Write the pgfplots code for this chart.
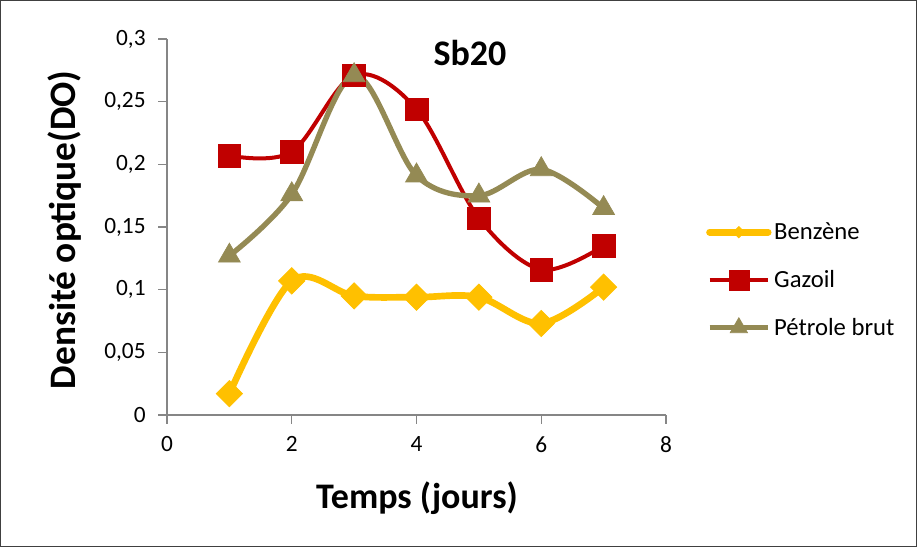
\documentclass[border=0pt]{standalone}
\usepackage{pgfplots}
\pgfplotsset{compat=1.18}
\usepackage{fontspec}
\setmainfont{Carlito}
\definecolor{benz}{HTML}{FFC000}
\definecolor{gaz}{HTML}{C00000}
\definecolor{pet}{HTML}{948A54}
\definecolor{axgray}{HTML}{868686}
\begin{document}
\begin{tikzpicture}[x=0.75pt,y=0.75pt]
\draw[draw=black!75,line width=0.75pt] (0.5,0.5) rectangle (916.5,546.5);
\begin{axis}[
  at={(125.25pt,99pt)}, anchor=origin,
  scale only axis, width=374.25pt, height=282pt,
  xmin=0, xmax=8, ymin=0, ymax=0.3,
  xtick={0,2,4,6,8}, ytick={0,0.05,0.1,0.15,0.2,0.25,0.3},
  axis x line*=bottom, axis y line*=left,
  axis line style={draw=axgray, line width=0.9pt},
  tick style={draw=axgray, line width=0.9pt},
  tick align=outside, major tick length=6.5pt,
  ticklabel style={font=\fontsize{17.5}{20}\selectfont},
  /pgf/number format/assume math mode=true,
  yticklabel style={/pgf/number format/.cd, use comma, fixed, precision=2, assume math mode=true, /tikz/.cd, xshift=-6pt},
  xticklabel style={yshift=-6pt},
  clip=false,
  legend style={at={(axis description cs:1.08,0.359)}, anchor=west, draw=none, fill=none,
    font=\fontsize{18.5}{21}\selectfont, row sep=17.5pt, inner sep=0pt,
    /tikz/every even column/.append style={column sep=2pt}},
  legend cell align=left,
  legend image code/.code={\draw[mark repeat=2,mark phase=2] plot coordinates {(0pt,0pt) (22pt,0pt) (44pt,0pt)};},
]
\addplot[benz, line width=5pt, smooth, tension=0.55, mark=square*, mark size=7pt,
  mark options={rotate=45, solid, line width=0.5pt},
  legend image post style={mark size=3pt, line cap=round}] coordinates {
  (1,0.017) (2,0.107) (3,0.095) (4,0.094) (5,0.094) (6,0.073) (7,0.102)};
\addlegendentry{Benzène}
\addplot[gaz, line width=3pt, smooth, tension=0.55, mark=square*, mark size=8.5pt,
  mark options={solid, line width=0.5pt, rounded corners=2pt},
  legend image post style={mark size=7.5pt}] coordinates {
  (1,0.207) (2,0.210) (3,0.271) (4,0.244) (5,0.157) (6,0.116) (7,0.135)};
\addlegendentry{Gazoil}
\addplot[pet, line width=4pt, smooth, tension=0.55, mark=triangle*, mark size=9.5pt,
  mark options={solid, line width=0.5pt},
  legend image post style={mark size=7.5pt}] coordinates {
  (1,0.127) (2,0.176) (3,0.271) (4,0.191) (5,0.175) (6,0.196) (7,0.165)};
\addlegendentry{Pétrole brut}
\end{axis}
\node[font=\bfseries\fontsize{27}{30}\selectfont] at (470,494) {Sb20};
\node[font=\bfseries\fontsize{27}{30}\selectfont] at (417,49) {Temps (jours)};
\node[font=\bfseries\fontsize{28}{30}\selectfont, rotate=90] at (65,317) {Densité optique(DO)};
\end{tikzpicture}
\end{document}
